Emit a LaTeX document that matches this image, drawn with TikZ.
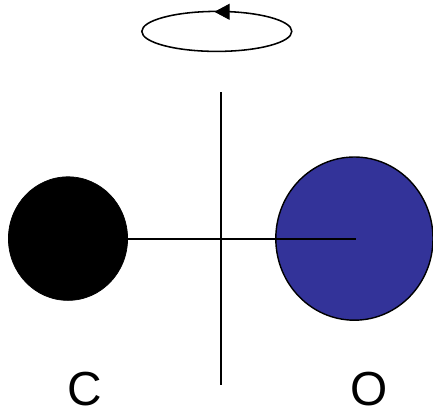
\documentclass[tikz,border=0pt]{standalone}
\usepackage{fontspec}
\setmainfont{Liberation Sans}
\usetikzlibrary{arrows.meta, positioning, shapes.geometric}
\definecolor{oxygen-fill}{HTML}{333399}
\definecolor{edge}{HTML}{000000}
\tikzset{
  atom-c/.style={
    ellipse, draw=edge, fill=black, line width=0.5pt,
    minimum width=2.98cm, minimum height=3.09cm, inner sep=0pt
  },
  atom-o/.style={
    ellipse, draw=edge, fill=oxygen-fill, line width=1pt,
    minimum width=3.93cm, minimum height=4.08cm, inner sep=0pt
  },
  rotation-loop/.style={
    ellipse, draw=edge, line width=1.1pt,
    minimum width=3.75cm, minimum height=1.0cm, inner sep=0pt
  },
  bond/.style={draw=edge, line width=1.5pt},
  axis-line/.style={draw=edge, line width=1.1pt},
  loop-tip/.style={-{Triangle[length=0.38cm, width=0.40cm]}, draw=edge, fill=edge, line width=0.6pt},
  atom-label/.style={font=\fontsize{34}{34}\selectfont, inner sep=0pt}
}
\begin{document}
\begin{tikzpicture}
  \useasboundingbox (0,0) rectangle (10.825,10.275);

  % ---- Nodes ---------------------------------------------------------------
  \node[atom-c] (carbon) at (1.70, 4.31) {};
  \node[atom-o] (oxygen) at (8.86, 4.31) {};
  \node[rotation-loop] (loop) at (5.42, 9.49) {};
  \node[atom-label] (c-label) at (2.12, 0.56) {C};
  \node[atom-label] (o-label) at (9.22, 0.56) {O};

  % ---- Axis end points -----------------------------------------------------
  \coordinate (axis-top) at (5.53, 7.97);
  \coordinate (axis-bottom) at (5.53, 0.65);
  \coordinate (tip-start) at (5.75, 9.98);
  \coordinate (tip-end) at (5.36, 9.98);
  \coordinate (bond-end) at (8.90, 4.31);

  % ---- Connectors ----------------------------------------------------------
  \draw[axis-line] (axis-top) -- (axis-bottom);
  \draw[bond] (carbon.east) -- (bond-end);
  \draw[loop-tip] (tip-start) -- (tip-end);

\end{tikzpicture}
\end{document}
